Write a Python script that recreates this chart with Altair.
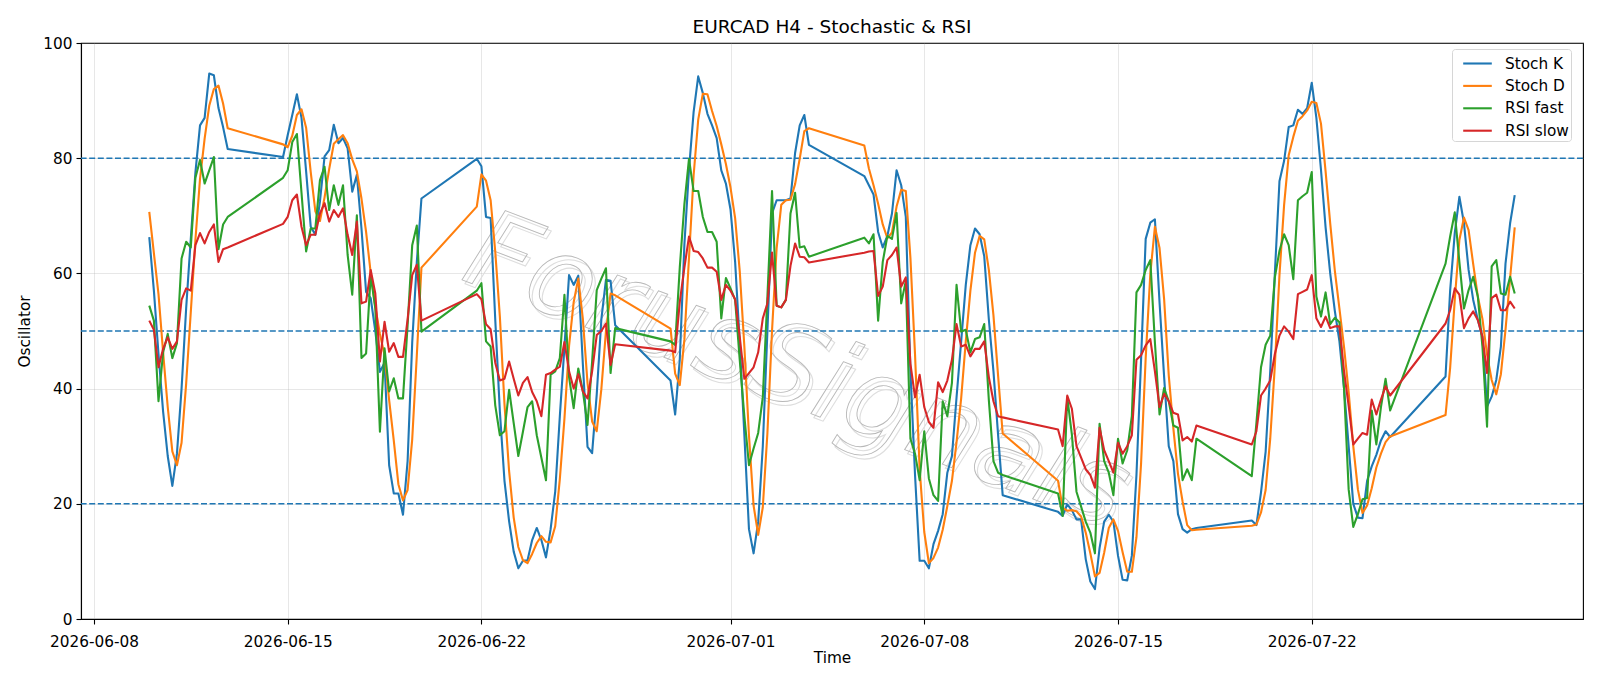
import altair as alt
import pandas as pd
from datetime import datetime, timedelta

# Trading sessions (H4 bars): Sundays open with a single 20:00 bar
sessions = [
    "2026-06-10", "2026-06-11", "2026-06-12", "2026-06-14",
    "2026-06-15", "2026-06-16", "2026-06-17", "2026-06-18", "2026-06-19", "2026-06-21",
    "2026-06-22", "2026-06-23", "2026-06-24", "2026-06-25", "2026-06-26", "2026-06-28",
    "2026-06-29", "2026-06-30", "2026-07-01", "2026-07-02", "2026-07-03", "2026-07-05",
    "2026-07-06", "2026-07-07", "2026-07-08", "2026-07-09", "2026-07-10", "2026-07-12",
    "2026-07-13", "2026-07-14", "2026-07-15", "2026-07-16", "2026-07-17", "2026-07-19",
    "2026-07-20", "2026-07-21", "2026-07-22", "2026-07-23", "2026-07-24", "2026-07-26",
    "2026-07-27", "2026-07-28", "2026-07-29",
]

stoch_k = [
    66.3, 57.0, 46.0, 36.0, 28.3, 23.1,   # 06-10
    28.7, 40.0, 54.0, 66.0, 77.5, 85.7,   # 06-11
    87.0, 94.7, 94.4, 88.7, 85.4, 81.6,   # 06-12
    80.2,                                 # 06-14
    84.0, 87.5, 91.1, 87.0, 77.7, 68.1,   # 06-15
    66.7, 72.5, 80.3, 81.4, 85.8, 82.6,   # 06-16
    83.5, 81.7, 74.2, 77.1, 67.8, 56.8,   # 06-17
    55.7, 50.0, 42.9, 44.5, 26.7, 21.8,   # 06-18
    21.8, 18.1, 27.4, 48.0, 62.0, 73.0,   # 06-19
    79.9,                                 # 06-21
    78.6, 69.8, 69.6, 52.0, 36.0, 24.0,   # 06-22
    17.0, 11.7, 8.8, 10.1, 10.2, 13.7,    # 06-23
    15.8, 13.7, 10.7, 15.6, 22.1, 35.2,   # 06-24
    47.2, 59.7, 58.0, 59.6, 44.1, 29.9,   # 06-25
    28.8, 39.0, 52.0, 58.9, 58.7, 51.0,   # 06-26
    41.4,                                 # 06-28
    35.5, 45.0, 65.0, 78.0, 88.0, 94.2,   # 06-29
    91.3, 87.7, 85.7, 83.5, 77.9, 75.6,   # 06-30
    71.1, 62.0, 48.0, 32.0, 15.6, 11.4,   # 07-01
    16.9, 30.0, 50.0, 70.4, 72.7, 72.7,   # 07-02
    72.7, 73.0, 80.9, 85.7, 87.5, 82.3,   # 07-03
    76.9,                                 # 07-05
    75.3, 73.7, 67.2, 64.5, 66.5, 70.4,   # 07-06
    77.9, 75.3, 69.8, 43.0, 25.0, 10.1,   # 07-07
    10.1, 8.8, 13.0, 15.3, 18.2, 25.4,    # 07-08
    28.3, 38.5, 48.2, 58.0, 64.9, 67.8,   # 07-09
    66.8, 63.0, 52.0, 43.0, 32.0, 21.5,   # 07-10
    18.6,                                 # 07-12
    17.9, 19.9, 18.9, 17.3, 17.3, 10.4,   # 07-13
    6.5, 5.2, 12.3, 16.9, 18.1, 16.9,     # 07-14
    11.0, 6.8, 6.7, 11.0, 25.0, 45.0,     # 07-15
    66.0, 68.8, 69.4, 55.0, 42.0, 30.0,   # 07-16
    27.4, 18.2, 15.6, 15.0, 15.6, 15.8,   # 07-17
    17.1,                                 # 07-19
    16.3, 22.0, 29.0, 43.0, 60.0, 76.0,   # 07-20
    79.5, 85.4, 85.7, 88.4, 87.7, 88.7,   # 07-21
    93.1, 87.0, 78.0, 68.0, 60.0, 53.5,   # 07-22
    48.2, 40.0, 30.0, 20.0, 17.6, 17.5,   # 07-23
    24.0, 26.5, 28.5, 31.0, 32.6, 31.6,   # 07-24
    42.1,                                 # 07-26
    57.0, 67.0, 73.3, 68.7, 60.6, 55.4,   # 07-27
    51.9, 49.0, 36.9, 38.6, 41.5, 47.3,   # 07-28
    61.7, 68.7, 73.6,                     # 07-29
]

stoch_d = [
    70.7, 63.5, 56.4, 46.3, 36.8, 29.1,
    26.7, 30.6, 40.9, 53.3, 65.8, 76.4,
    83.4, 89.1, 92.0, 92.6, 89.5, 85.2,
    82.4,
    81.9, 83.9, 87.5, 88.5, 85.3, 77.6,
    70.8, 69.1, 73.2, 78.1, 82.5, 83.3,
    84.0, 82.6, 79.8, 77.7, 73.0, 67.2,
    60.1, 54.2, 49.5, 45.8, 38.0, 31.0,
    23.4, 20.6, 22.4, 31.2, 45.8, 61.0,
    71.6,
    77.2, 76.1, 72.7, 63.8, 52.5, 37.3,
    25.7, 17.6, 12.5, 10.2, 9.7, 11.3,
    13.2, 14.4, 13.4, 13.3, 16.1, 24.3,
    34.8, 47.4, 55.0, 59.1, 52.0, 41.0,
    34.3, 32.6, 39.9, 50.0, 56.5, 56.2,
    50.4,
    42.6, 40.6, 48.5, 62.7, 77.0, 86.7,
    91.2, 91.1, 88.2, 85.6, 82.4, 79.0,
    74.9, 69.6, 60.4, 47.3, 31.9, 19.7,
    14.6, 19.4, 32.3, 50.1, 64.4, 71.9,
    72.7, 72.8, 75.5, 79.9, 84.7, 85.2,
    82.2,
    78.2, 75.3, 72.1, 68.5, 66.1, 67.1,
    71.6, 74.5, 74.3, 62.7, 45.9, 26.0,
    15.1, 9.7, 10.6, 12.4, 15.5, 19.6,
    24.0, 30.7, 38.3, 48.2, 57.0, 63.6,
    66.5, 65.9, 60.6, 52.7, 42.3, 32.2,
    24.0,
    19.3, 18.8, 18.9, 18.7, 17.8, 15.0,
    11.4, 7.4, 8.0, 11.5, 15.8, 17.3,
    15.3, 11.6, 8.2, 8.2, 14.2, 27.0,
    45.3, 59.9, 68.1, 64.4, 55.5, 42.3,
    33.1, 25.2, 20.4, 16.3, 15.4, 15.5,
    16.2,
    16.4, 18.5, 22.4, 31.3, 44.0, 59.7,
    71.8, 80.5, 83.7, 86.5, 87.3, 88.3,
    89.8, 89.6, 86.0, 77.7, 68.7, 60.5,
    53.9, 47.2, 39.4, 30.0, 22.5, 18.4,
    19.7, 22.7, 26.3, 28.7, 30.7, 31.7,
    35.4,
    43.6, 55.4, 65.8, 69.7, 67.5, 61.6,
    56.0, 52.1, 45.9, 41.5, 39.0, 42.5,
    50.2, 59.2, 68.0,
]

rsi_fast = [
    54.4, 51.8, 37.8, 46.3, 49.5, 45.3,
    47.9, 62.6, 65.5, 64.5, 76.6, 79.7,
    75.6, 77.9, 80.2, 64.2, 68.5, 69.8,
    76.6,
    77.9, 82.8, 84.2, 74.0, 63.8, 67.8,
    67.8, 76.2, 78.5, 71.0, 75.3, 71.9,
    75.3, 63.2, 56.3, 70.1, 45.3, 46.1,
    59.7, 53.9, 32.5, 47.0, 39.5, 41.8,
    38.3, 38.3, 51.0, 64.9, 68.3, 49.9,
    57.0,
    58.3, 48.2, 47.3, 37.1, 31.9, 32.6,
    39.8, 34.0, 28.3, 32.5, 36.8, 37.8,
    31.9, 28.0, 24.1, 42.4, 43.0, 45.3,
    56.3, 42.0, 36.6, 43.5, 39.5, 33.7,
    44.7, 57.1, 59.1, 60.9, 42.7, 50.5,
    48.2,
    47.6, 61.0, 72.0, 79.9, 74.3, 74.3,
    69.8, 67.2, 67.2, 65.5, 52.2, 59.2,
    57.4, 55.4, 45.0, 35.2, 26.7, 29.6,
    32.3, 38.5, 56.0, 74.3, 54.4, 54.1,
    55.4, 70.4, 74.0, 64.5, 64.7, 62.9,
    66.2,
    65.2, 66.8, 51.8, 62.0, 66.5, 66.0,
    70.5, 54.8, 58.7, 31.3, 28.7, 24.1,
    32.6, 24.4, 21.5, 20.5, 37.8, 35.2,
    41.0, 58.0, 49.9, 50.2, 46.3, 48.6,
    48.9, 51.2, 38.0, 27.4, 25.4, 25.0,
    21.8,
    17.9, 38.5, 32.0, 22.1, 19.5, 16.9,
    15.0, 11.4, 33.9, 27.4, 25.4, 21.5,
    31.3, 27.0, 29.3, 35.2, 56.7, 58.0,
    60.6, 62.3, 48.0, 35.5, 40.1, 37.8,
    33.6, 33.2, 24.1, 26.0, 24.1, 31.3,
    24.8,
    34.0, 43.7, 47.6, 49.2, 59.3, 63.9,
    66.8, 64.9, 59.0, 72.7, 73.4, 74.0,
    77.6, 56.0, 52.5, 56.7, 51.2, 52.3,
    51.5, 40.0, 22.5, 16.0, 18.2, 20.8,
    21.0, 36.2, 30.3, 36.8, 41.7, 36.2,
    61.7,
    66.4, 70.6, 62.0, 53.9, 57.1, 59.4,
    56.0, 47.3, 33.4, 61.2, 62.3, 56.5,
    56.3, 59.4, 56.5,
]

rsi_slow = [
    51.8, 50.2, 43.7, 46.9, 48.9, 46.9,
    48.2, 55.4, 57.4, 57.0, 64.9, 67.0,
    65.2, 67.2, 68.5, 62.0, 64.2, 64.5,
    68.6,
    69.8, 72.7, 73.7, 68.1, 64.9, 66.7,
    66.7, 70.4, 72.2, 69.0, 71.0, 69.8,
    71.3, 66.7, 63.2, 69.0, 54.8, 55.1,
    60.6, 56.5, 44.7, 51.6, 46.4, 47.9,
    45.5, 45.5, 52.0, 59.7, 61.5, 51.8,
    56.4,
    55.5, 51.2, 50.3, 44.5, 41.4, 41.7,
    44.7, 41.7, 38.8, 41.0, 42.0, 39.4,
    37.8, 35.2, 42.4, 42.7, 43.3, 43.8,
    48.1, 43.0, 40.0, 42.5, 39.5, 38.3,
    43.0, 49.3, 50.0, 51.3, 44.1, 47.7,
    46.6,
    46.3, 55.0, 61.0, 66.4, 63.9, 63.7,
    62.6, 61.0, 61.0, 60.3, 55.4, 58.0,
    57.0, 55.5, 49.0, 41.7, 42.7, 43.7,
    46.3, 52.2, 54.8, 63.6, 54.4, 54.1,
    55.4, 61.3, 65.2, 62.9, 62.8, 61.9,
    63.6,
    63.8, 63.9, 56.1, 57.7, 62.3, 63.2,
    64.5, 57.7, 59.3, 44.3, 38.5, 42.4,
    36.8, 34.2, 33.2, 41.1, 39.4, 41.4,
    45.0, 51.2, 47.3, 47.6, 45.6, 46.9,
    46.9, 48.2, 42.0, 37.8, 35.2, 35.0,
    32.9,
    30.0, 38.8, 36.5, 30.0, 28.0, 26.0,
    25.0, 22.8, 33.2, 29.3, 27.4, 25.4,
    30.6, 28.7, 30.0, 31.9, 45.0, 45.8,
    47.5, 48.6, 43.0, 36.8, 39.1, 37.8,
    35.8, 35.5, 31.0, 31.6, 30.8, 33.6,
    30.3,
    32.6, 38.8, 40.0, 41.4, 46.0, 49.2,
    50.8, 49.9, 48.6, 56.4, 56.8, 57.2,
    59.7, 52.2, 50.7, 52.5, 50.5, 50.8,
    50.8, 43.0, 37.0, 30.3, 31.3, 32.3,
    32.0, 38.1, 35.5, 38.1, 40.4, 38.8,
    51.3,
    53.6, 57.4, 56.3, 50.5, 52.2, 53.4,
    51.9, 49.0, 42.7, 55.7, 56.3, 53.6,
    53.6, 55.1, 53.9,
]

series_names = ["Stoch K", "Stoch D", "RSI fast", "RSI slow"]
series_colors = ["#1f77b4", "#ff7f0e", "#2ca02c", "#d62728"]
levels = [20, 50, 80]
y_ticks = [0, 20, 40, 60, 80, 100]
x_tick_days = ["2026-06-08", "2026-06-15", "2026-06-22", "2026-07-01",
               "2026-07-08", "2026-07-15", "2026-07-22"]

# Bar timestamps from the session calendar
times = []
for d in sessions:
    day = datetime.strptime(d, "%Y-%m-%d")
    hours = [20] if day.weekday() == 6 else [0, 4, 8, 12, 16, 20]
    for h in hours:
        times.append(day + timedelta(hours=h))
times = times[:len(stoch_k)]

rows = []
for name, vals in zip(series_names, [stoch_k, stoch_d, rsi_fast, rsi_slow]):
    for t, v in zip(times, vals):
        rows.append({"time": t.strftime("%Y-%m-%dT%H:%M:%S"), "value": v, "series": name})
df = pd.DataFrame(rows)


def dt(s, h=0, m=0):
    d = datetime.strptime(s, "%Y-%m-%d")
    return alt.DateTime(year=d.year, month=d.month, date=d.day, hours=h, minutes=m)


x_scale = alt.Scale(domain=[dt("2026-06-07", 12, 48), dt("2026-07-31", 19, 12)])
y_scale = alt.Scale(domain=[0, 100], nice=False, zero=False)

FONT = "DejaVu Sans"
FS = 15.3

lines = alt.Chart(df).mark_line(strokeWidth=2.1, strokeJoin="round").encode(
    x=alt.X("time:T", scale=x_scale,
            axis=alt.Axis(values=[dt(s) for s in x_tick_days], format="%Y-%m-%d",
                          title="Time", labelAngle=0)),
    y=alt.Y("value:Q", scale=y_scale,
            axis=alt.Axis(values=y_ticks, title="Oscillator")),
    color=alt.Color("series:N",
                    scale=alt.Scale(domain=series_names, range=series_colors),
                    sort=series_names,
                    legend=alt.Legend(title=None, orient="none", legendX=1371, legendY=6,
                                      symbolType="M-1.3,0L1.3,0", symbolStrokeWidth=2.1,
                                      symbolSize=484, symbolOffset=11,
                                      labelFontSize=FS, labelFont=FONT,
                                      labelColor="black", padding=2, rowPadding=1.4,
                                      labelOffset=15, strokeColor="#d6d6d6",
                                      fillColor="white", cornerRadius=3)),
)

guides = alt.Chart(pd.DataFrame({"level": levels})).mark_rule(
    color="#1f77b4", strokeWidth=1.5, strokeDash=[6, 2.6]
).encode(y=alt.Y("level:Q", scale=y_scale))

mark_word = pd.DataFrame({"label": ["ForusSignals"]})
wm_style = dict(fontSize=110, font=FONT, angle=21, align="center", baseline="middle",
                fontStyle="italic", fillOpacity=0.0)
watermark_shadow = alt.Chart(mark_word).mark_text(
    stroke="#dedede", strokeWidth=1.1, **wm_style
).encode(text="label:N", x=alt.value(719), y=alt.value(334))
watermark = alt.Chart(mark_word).mark_text(
    stroke="#b8b8b8", strokeWidth=0.9, **wm_style
).encode(text="label:N", x=alt.value(716), y=alt.value(330))

chart = alt.layer(watermark_shadow, watermark, guides, lines).properties(
    width=1502, height=576,
    title=alt.TitleParams("EURCAD H4 - Stochastic & RSI", fontSize=18.5, font=FONT,
                          fontWeight="normal", color="black", offset=0),
    padding={"left": 81, "top": 43, "right": 17, "bottom": 67},
    autosize=alt.AutoSizeParams(type="none"),
).configure_view(
    stroke="black", strokeWidth=1.1
).configure_axis(
    labelFont=FONT, titleFont=FONT, labelFontSize=FS, titleFontSize=FS,
    labelColor="black", titleColor="black", titleFontWeight="normal",
    domainColor="black", domainWidth=1.1, tickColor="black", tickSize=5, tickWidth=1.1,
    grid=True, gridColor="#b0b0b0", gridOpacity=0.3, gridWidth=1, labelPadding=4,
).configure_axisX(
    titlePadding=1, labelPadding=10
).configure_axisY(
    titlePadding=10
)

chart.save("out.html", embed_options={"renderer": "svg", "actions": False})
